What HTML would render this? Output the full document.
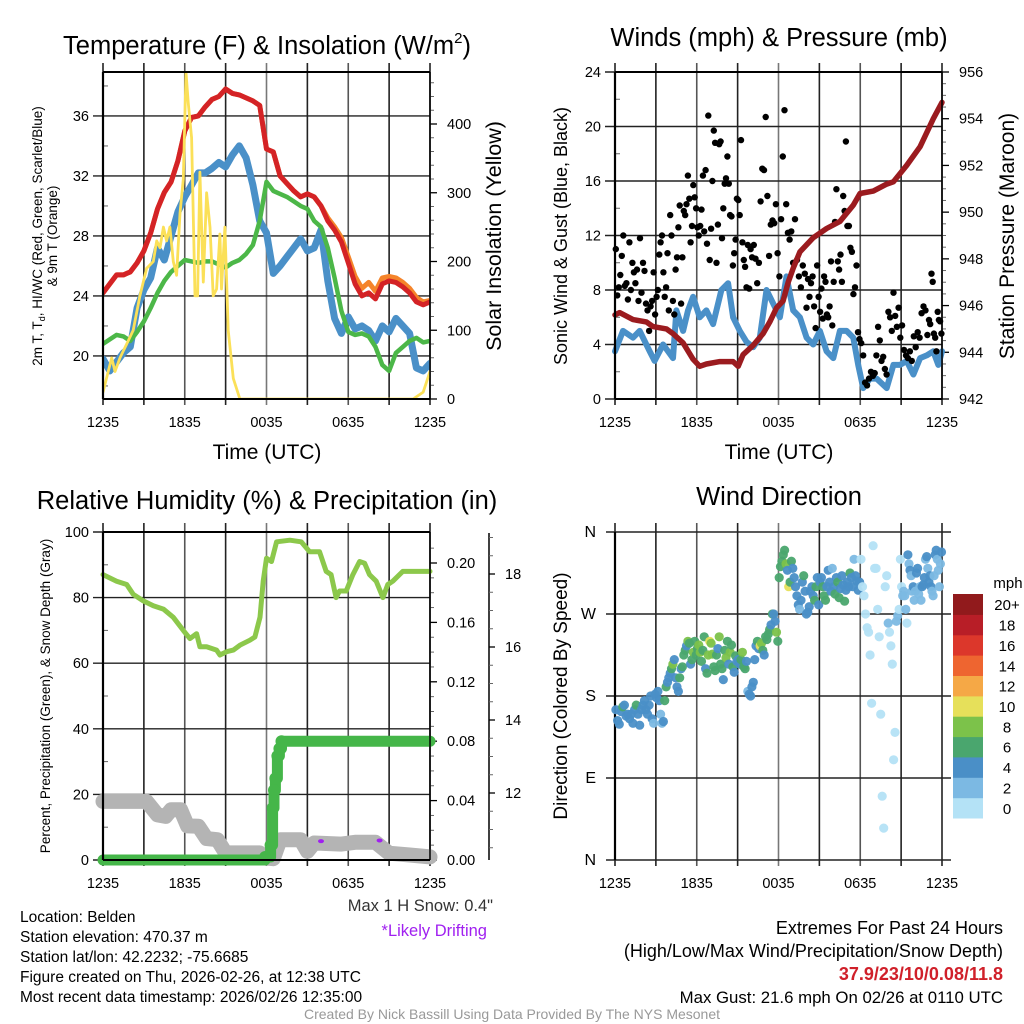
<!DOCTYPE html>
<html><head><meta charset="utf-8"><style>
html,body{margin:0;padding:0;background:#fff;}
svg{display:block;font-family:"Liberation Sans",Arial,sans-serif;}
</style></head><body>
<svg id="c" width="1024" height="1024" viewBox="0 0 1024 1024" xmlns="http://www.w3.org/2000/svg">
<rect width="1024" height="1024" fill="#fff"/>
<g id="g"></g>
<text x="267" y="54" font-size="25.5" text-anchor="middle">Temperature (F) &amp; Insolation (W/m<tspan font-size="15" dy="-11">2</tspan><tspan dy="11">)</tspan></text>
<text x="779" y="46" font-size="25.5" text-anchor="middle">Winds (mph) &amp; Pressure (mb)</text>
<text x="267" y="509" font-size="25.5" text-anchor="middle">Relative Humidity (%) &amp; Precipitation (in)</text>
<text x="779" y="505" font-size="25.5" text-anchor="middle">Wind Direction</text>
<text x="267" y="459" font-size="21" text-anchor="middle">Time (UTC)</text>
<text x="779" y="459" font-size="21" text-anchor="middle">Time (UTC)</text>
<text transform="translate(42,236) rotate(-90)" font-size="13.5" text-anchor="middle">2m T, T<tspan font-size="9" dy="3">d</tspan><tspan dy="-3">, HI/WC (Red, Green, Scarlet/Blue)</tspan></text>
<text transform="translate(57,236) rotate(-90)" font-size="13.5" text-anchor="middle">&amp; 9m T (Orange)</text>
<text transform="translate(501,236) rotate(-90)" font-size="21.5" text-anchor="middle">Solar Insolation (Yellow)</text>
<text transform="translate(567,236) rotate(-90)" font-size="18" text-anchor="middle">Sonic Wind &amp; Gust (Blue, Black)</text>
<text transform="translate(1014,236) rotate(-90)" font-size="21" text-anchor="middle">Station Pressure (Maroon)</text>
<text transform="translate(50,696) rotate(-90)" font-size="13.5" text-anchor="middle">Percent, Precipitation (Green), &amp; Snow Depth (Gray)</text>
<text transform="translate(567,696) rotate(-90)" font-size="19" text-anchor="middle">Direction (Colored By Speed)</text>
<text x="493" y="911" font-size="16.5" fill="#333" text-anchor="end">Max 1 H Snow: 0.4"</text>
<text x="487" y="936" font-size="16.5" fill="#a020f0" text-anchor="end">*Likely Drifting</text>
<g font-size="15.5">
<text x="20" y="922">Location: Belden</text>
<text x="20" y="942">Station elevation: 470.37 m</text>
<text x="20" y="962">Station lat/lon: 42.2232; -75.6685</text>
<text x="20" y="982">Figure created on Thu, 2026-02-26, at 12:38 UTC</text>
<text x="20" y="1002">Most recent data timestamp: 2026/02/26 12:35:00</text>
</g>
<g font-size="18" text-anchor="end">
<text x="1003" y="934">Extremes For Past 24 Hours</text>
<text x="1003" y="957">(High/Low/Max Wind/Precipitation/Snow Depth)</text>
<text x="1003" y="980" fill="#d0202a" font-weight="bold">37.9/23/10/0.08/11.8</text>
<text x="1003" y="1003" font-size="16.8">Max Gust: 21.6 mph On 02/26 at 0110 UTC</text>
</g>
<text x="512" y="1019" font-size="14" fill="#999" text-anchor="middle">Created By Nick Bassill Using Data Provided By The NYS Mesonet</text>
</svg>
<script>
// ---------- data ----------
const halfHours=[0,.5,1,1.5,2,2.5,3,3.5,4,4.5,5,5.5,6,6.5,7,7.5,8,8.5,9,9.5,10,10.5,11,11.5,12,12.5,13,13.5,14,14.5,15,15.5,16,16.5,17,17.5,18,18.5,19,19.5,20,20.5,21,21.5,22,22.5,23,23.5,24];
const tempRed=[24.2,24.8,25.4,25.4,25.6,26.2,27.0,28.2,29.8,30.9,31.6,33.0,35.0,35.9,36.0,36.6,37.1,37.3,37.8,37.5,37.4,37.2,37.0,36.7,33.8,33.6,32.0,31.5,31.0,30.6,30.8,30.6,30.0,29.0,28.4,27.6,26.2,24.8,24.0,24.2,23.8,24.8,25.0,24.9,24.6,24.2,23.6,23.4,23.6];
const temp9m=[24.2,24.8,25.4,25.4,25.6,26.2,27.0,28.2,29.8,30.9,31.6,33.0,35.0,35.9,36.0,36.6,37.1,37.3,37.8,37.5,37.4,37.2,37.0,36.7,33.8,33.6,32.0,31.5,31.0,30.6,30.8,30.6,30.0,29.2,28.6,27.9,26.6,25.3,24.5,24.9,24.3,25.2,25.3,25.2,24.9,24.5,23.9,23.6,23.7];
const tempGreen=[20.8,21.1,21.4,21.3,21.0,21.6,22.3,23.2,24.2,25.0,25.6,26.0,26.4,26.3,26.2,26.3,26.3,26.1,25.9,26.2,26.4,26.8,27.4,29.0,31.6,31.0,30.8,30.6,30.3,30.0,29.8,29.0,28.6,27.2,25.2,23.0,21.6,21.4,21.5,21.3,20.6,19.4,19.0,20.2,20.6,21.0,21.2,20.9,21.0];
const tempBlue=[19.8,19.0,19.6,20.2,20.6,23.2,24.4,25.2,27.2,26.4,28.0,29.6,30.6,31.4,32.2,32.2,32.5,32.9,32.6,33.4,34.0,33.2,31.4,29.0,28.2,25.5,26.0,26.6,27.2,27.8,27.0,27.2,28.4,25.0,22.5,21.5,22.6,21.8,22.0,21.7,21.0,22.0,21.6,22.5,22.0,21.5,19.2,19.0,19.5];
const solarTimes=[0,.64,.88,1.25,1.74,2.22,2.71,3.2,3.69,3.94,4.18,4.43,4.67,4.91,5.16,5.4,5.65,5.89,6.09,6.26,6.5,6.75,6.94,7.11,7.36,7.6,7.85,8.09,8.34,8.58,8.7,8.95,9.19,9.56,10.05,22.76,23.5,24];
const solarVals=[10,60,40,60,80,100,150,190,200,230,220,250,230,250,200,180,270,320,475,430,380,150,150,330,170,300,250,150,160,240,160,250,100,30,0,0,10,40];
const presTimes=[0,.34,1.32,2.3,2.79,3.77,4.26,5.0,5.73,6.22,6.71,7.69,8.67,9.04,9.4,10.14,10.87,11.36,11.85,12.34,12.71,13.08,13.57,14.55,15.53,16.51,17.49,17.98,18.96,19.94,20.43,21.41,22.39,23.36,24];
const presVals=[945.6,945.7,945.4,945.3,945.1,945.0,944.8,944.4,943.7,943.4,943.5,943.6,943.6,943.4,943.9,944.3,944.8,945.3,945.9,946.2,947.0,947.6,948.3,948.9,949.3,949.6,950.3,950.8,950.9,951.2,951.3,952.0,952.8,954.0,954.7];
const windTimes=[0,.59,1.32,1.81,2.55,2.91,3.53,4.26,4.51,5.0,5.36,5.73,6.22,6.71,7.2,7.81,8.3,8.67,9.16,9.65,10.14,10.63,11.12,11.61,12.1,12.59,13.08,13.57,14.06,14.55,15.04,15.53,16.02,16.51,17.0,17.49,17.85,18.22,18.71,19.2,19.94,20.43,20.92,21.41,21.9,22.39,22.88,23.36,23.73,24];
const windVals=[3.5,5,4.5,5,3.5,2.8,4,3,6.5,5,6.5,7.5,6,6.5,5.5,8,8.5,6,5,4.2,3.8,4.5,8,7,6,9,6.5,6,4.5,4,5,3.5,3,5,5,4.5,2.5,0.8,1.5,1.5,0.8,2.5,2.5,2.8,1.8,3.0,3.2,3.5,2.5,3.5];
const gustsByHour=[
[11,7.6,8.2,9.1,10.5,12,8.3,8.5,7.3],[11.5,8.0,10,9.3,8.5,9.5,7.2,11.8,7.8],[10,9.4,7.0,6.5,5.0,6.8,7.2,9.3,6.2],
[7.5,8.0,10.6,11.5,12,9.3,7.5,8.2,10.7,6.5],[13.5,12,7.2,6.2,9.5,10.4,12.6,14.2,7.0,10.4],[13.8,13.5,14.3,16.4,14.7,11.5,12.7,15.7,14.8,14.0],
[12.6,12.0,12.7,13.9,16.4,12.3,16.8,11.4,20.8,10.2],[12.5,16.0,19.7,18.8,10.0,12.8,18.7,18.9,11.8,14.0],[15.8,16.2,17.8,15.8,13.5,13.4,9.8,10.7,11.7,14.7],
[14.6,13.5,19.0,11.5,10.2,9.7,8.2,11.3,8.1,11.0],[10.4,11.3,10.3,8.5,10.0,14.5,16.9,16.8],[20.7,14.9,10.5,12.8,13.1,12.9,14.3,10.7],
[9.0,13.2,17.8,21.2,14.3,12.2,11.7,12.3],[10.0,13.2,10.2,9.0,8.2,9.8,9.2],[6.7,8.8,7.5,8.5,9.0,6.8,5.2,9.8,7.5],
[6.4,8.1,5.9,9.0,8.6,6.2,6.0,6.8,10.1,5.4],[8.6,13.0,15.4,10.1,9.5,10.6,8.6,14.9,13.8,18.9],[12.7,12.7,11.1,10.8,7.7,8.2,9.8,4.9,4.4],
[4.1,3.2,1.2,1.0,1.5,2.0,1.7],[1.9,3.2,5.3,4.3,2.8,3.1,2.2,1.8],[6.4,6.0,5.0,7.8,6.1,5.3,6.7,4.5],
[5.4,3.6,3.2,3.0,3.5,2.8,4.6],[3.8,4.9,4.5,6.3,6.8,6.5,4.7],[5.8,5.5,9.2,8.6,4.8,4.5,3.5,6.4,5.8,5.7,4.8]];
const rhTimes=[0,1.0,1.74,2.22,2.96,3.69,4.43,5.16,5.89,6.38,6.87,7.11,7.6,8.34,8.58,9.07,9.56,10.05,10.78,11.15,11.52,11.76,12.0,12.37,12.74,13.72,14.55,15.16,15.89,16.38,16.74,17.11,17.36,17.85,18.34,18.83,19.2,19.56,20.05,20.54,20.9,21.27,22.0,22.74,23.47,24];
const rhVals=[87,85,84,81,79,77.5,76.5,74,70,67.5,69,65,65,64,62.5,63.5,64,65.5,67,68,74,85,92,91,97,97.5,97,94,94,88,87,80,82,82,87,91,90.5,87,85,80,84,85,88,88,88,88];
const precipTimes=[0,11.6,11.9,12.3,12.45,12.55,12.65,12.8,12.95,13.1,24];
const precipVals=[0,0,0.002,0.01,0.035,0.047,0.055,0.07,0.075,0.08,0.08];
const snowTimes=[0,3.2,4.0,4.6,5.0,5.7,6.2,7.0,7.6,8.4,9.0,11.5,12.0,12.5,13.0,14.5,15.0,15.5,17.5,18.5,20.0,20.5,21.0,22.5,24];
const snowVals=[11.77,11.77,11.4,11.36,11.54,11.54,11.1,11.09,10.75,10.72,10.36,10.36,10.22,10.2,10.72,10.72,10.4,10.63,10.6,10.65,10.65,10.5,10.35,10.3,10.25];
const driftTimes=[16.0,20.3];
const driftVals=[10.68,10.7];
const dirByHour=[
[[165,4],[153,4],[149,4],[163,4],[168,6],[170,4],[158,4],[160,4]],
[[155,4],[160,4],[150,4],[165,4],[170,6],[160,4],[148,4],[165,4]],
[[170,4],[175,4],[165,4],[160,4],[170,4],[180,4],[155,4],[150,2],[182,4]],
[[178,4],[185,4],[175,4],[160,2],[150,2],[152,4],[175,6],[190,6],[195,4],[200,4]],
[[205,4],[210,6],[215,8],[220,4],[200,4],[190,4],[185,4],[200,6],[210,4],[212,6]],
[[225,6],[230,6],[235,4],[240,8],[238,6],[215,4],[220,6],[228,8],[240,6],[225,6]],
[[232,6],[236,8],[228,8],[218,6],[230,6],[245,6],[210,4],[205,6],[225,8],[240,10]],
[[238,8],[226,8],[212,6],[208,6],[225,6],[232,4],[245,8],[215,6],[210,6],[198,4]],
[[230,6],[222,8],[240,6],[215,4],[228,8],[236,6],[212,6],[206,4],[224,6],[218,4]],
[[220,4],[215,4],[220,6],[228,8],[212,6],[210,6],[218,4],[185,2],[182,4],[180,4]],
[[190,4],[195,4],[220,4],[235,4],[240,6],[232,4],[235,10],[238,8],[230,6],[225,4]],
[[245,6],[242,6],[248,6],[253,6],[258,4],[270,6],[270,4],[262,4],[250,8],[240,6]],
[[310,6],[322,6],[328,6],[335,6],[340,6],[325,8],[318,4],[300,10],[305,6],[328,6]],
[[320,4],[310,4],[300,4],[290,4],[280,4],[275,2],[285,4],[305,4],[312,6],[295,4]],
[[270,4],[272,4],[278,4],[295,4],[300,4],[290,4],[285,6],[300,6],[310,4],[280,4]],
[[305,4],[310,4],[300,6],[290,6],[285,6],[300,4],[318,4],[305,4],[295,4],[320,2]],
[[300,4],[292,6],[310,4],[305,6],[288,6],[298,4],[312,4],[302,4],[284,6],[296,4]],
[[305,4],[300,4],[315,6],[310,4],[300,4],[330,2],[312,4],[306,4],[296,4],[305,4]],
[[330,0],[300,0],[290,0],[270,0],[255,0],[250,0],[225,0],[172,0],[345,0]],
[[320,0],[320,0],[275,0],[245,0],[160,0],[70,0],[35,0],[300,0],[312,0]],
[[260,2],[250,0],[235,0],[215,0],[110,0],[140,0],[262,2],[268,2],[275,0],[330,0]],
[[300,0],[290,2],[295,2],[290,2],[275,2],[260,0],[335,4],[325,2],[318,4],[312,2],[295,2],[300,4],[285,2]],
[[295,2],[315,4],[320,4],[292,2],[300,2],[285,2],[300,4],[302,4],[310,4],[330,2],[333,4],[320,2]],
[[305,4],[312,4],[300,4],[295,2],[290,2],[312,2],[335,4],[340,4],[330,2],[318,2],[300,2],[325,2],[338,4]]];
const speedBinLabels=["0","2","4","6","8","10","12","14","16","18","20+"];
const speedBinColors=["#b4e2f6","#7cb9e3","#4a8fc7","#4aa66e","#7cc24a","#e6e05a","#f5a846","#ee6530","#dc372b","#b81e27","#911a1c"];
const xTickLabels=["1235","1835","0035","0635","1235"];
const tempTicks=[20,24,28,32,36], solarTicks=[0,100,200,300,400];
const windTicks=[0,4,8,12,16,20,24], presTicks=[942,944,946,948,950,952,954,956];
const rhTicks=[0,20,40,60,80,100], precipTicks=[0,0.04,0.08,0.12,0.16,0.20], snowTicks=[12,14,16,18];
const dirTicks=[0,90,180,270,360], dirLabels=["N","E","S","W","N"];

// ---------- helpers ----------
const NS="http://www.w3.org/2000/svg", G=document.getElementById('g');
function mk(tag,attrs,parent){const e=document.createElementNS(NS,tag);for(const k in attrs)e.setAttribute(k,attrs[k]);(parent||G).appendChild(e);return e;}
function pathD(ts,vs,fx,fy){return ts.map((t,i)=>(i?'L':'M')+fx(t).toFixed(1)+','+fy(vs[i]).toFixed(1)).join('');}
function stepD(ts,vs,fx,fy){let d='';ts.forEach((t,i)=>{const x=fx(t).toFixed(1),y=fy(vs[i]).toFixed(1);d+=i?('H'+x+'V'+y):('M'+x+','+y);});return d;}

function frame(x0,x1,y0,y1,name){
  const fx=h=>x0+h*(x1-x0)/24;
  const grp=mk('g',{});
  
  
  for(let h=0;h<=24;h+=3){
    const ln=mk('line',{x1:fx(h),x2:fx(h),y1:y0-9,y2:y1+6,stroke:(h===12?'#777':(h%12===6?'#555':'#222')),'stroke-width':1.6},grp);
    
    
  }
  xTickLabels.forEach((l,i)=>{
    const t=mk('text',{x:fx(i*6),y:y1+28,'font-size':14.5,'text-anchor':'middle'},grp);
    t.textContent=l;
    
    
  });
  return fx;
}
function hgrid(x0,x1,y,ext){
  const l=mk('line',{x1:x0-ext,x2:x1,y1:y,y2:y,stroke:'#222','stroke-width':1.4});
  
  
}
function label(x,y,txt,anchor,name,size){
  const t=mk('text',{x:x,y:y+5,'font-size':size||14.5,'text-anchor':anchor});
  t.textContent=txt;
  
  
}
function minor(x,y,len){mk('line',{x1:x,x2:x+len,y1:y,y2:y,stroke:'#666','stroke-width':1});}
function border(x0,x1,y0,y1){
  mk('line',{x1:x0,x2:x0,y1:y0,y2:y1,stroke:'#000','stroke-width':2.2});
  mk('line',{x1:x1,x2:x1,y1:y0,y2:y1,stroke:'#000','stroke-width':1.5});
  mk('line',{x1:x0,x2:x1,y1:y0,y2:y0,stroke:'#000','stroke-width':2});
  mk('line',{x1:x0,x2:x1,y1:y1,y2:y1,stroke:'#000','stroke-width':2});
}
function series(d,color,w,name){
  const p=mk('path',{d:d,fill:'none',stroke:color,'stroke-width':w,'stroke-linejoin':'round','stroke-linecap':'round'});
  
  
  return p;
}

// ---------- panel 1: temperature ----------
(function(){
  const x0=103,x1=430,y0=72,y1=399;
  const fx=frame(x0,x1,y0,y1,'temp');
  const yT=v=>y1-(v-17.13)*15, yS=v=>y1-v*275/400;
  tempTicks.forEach(v=>{hgrid(x0,x1,yT(v),10);label(x0-14,yT(v),String(v),'end','temp-y-tick');});
  for(let v=18;v<=38;v+=4){minor(x0,yT(v),5);}
  solarTicks.forEach(v=>{label(x1+17,yS(v),String(v),'start','solar-y-tick');mk('line',{x1:x1,x2:x1+7,y1:yS(v),y2:yS(v),stroke:'#000','stroke-width':1.3});});
  for(let v=20;v<=460;v+=20){if(v%100)minor(x1,yS(v),4);}
  const clip=mk('clipPath',{id:'c1'});mk('rect',{x:x0,y:y0,width:x1-x0,height:y1-y0},clip);
  const g=mk('g',{'clip-path':'url(#c1)'});
  series(pathD(halfHours,tempBlue,fx,yT),'#4a90c8',7,'blue-temp-line');g.appendChild(G.lastChild);
  series(pathD(halfHours,tempGreen,fx,yT),'#4cb748',4.5,'green-dewpoint-line');g.appendChild(G.lastChild);
  series(pathD(halfHours,temp9m,fx,yT),'#f5842a',5,'orange-9m-temp-line');g.appendChild(G.lastChild);
  series(pathD(halfHours,tempRed,fx,yT),'#d42326',5,'red-2m-temp-line');g.appendChild(G.lastChild);
  series(pathD(solarTimes,solarVals,fx,yS),'#fbe058',2.8,'yellow-insolation-line');g.appendChild(G.lastChild);
  border(x0,x1,y0,y1);
})();

// ---------- panel 2: winds ----------
(function(){
  const x0=615,x1=942,y0=72,y1=399;
  const fx=frame(x0,x1,y0,y1,'winds');
  const yW=v=>y1-v*327/24, yP=v=>y1-(v-942)*327/14;
  windTicks.forEach(v=>{hgrid(x0,x1,yW(v),10);label(x0-14,yW(v),String(v),'end','wind-y-tick');});
  for(let v=2;v<24;v+=4)minor(x0,yW(v),5);
  presTicks.forEach(v=>{label(x1+17,yP(v),String(v),'start','pressure-y-tick');mk('line',{x1:x1,x2:x1+7,y1:yP(v),y2:yP(v),stroke:'#000','stroke-width':1.3});});
  for(let v=942.5;v<956;v+=0.5){if(v%2)minor(x1,yP(v),4);}
  series(pathD(windTimes,windVals,fx,yW),'#4a90c8',6,'sonic-wind-line');
  gustsByHour.forEach((arr,h)=>arr.forEach((v,i)=>{
    const c=mk('circle',{cx:fx(h+(i+0.5)/arr.length).toFixed(1),cy:yW(v).toFixed(1),r:3.2,fill:'#000'});
    
    
  }));
  series(pathD(presTimes,presVals,fx,yP),'#9b1b1f',5.5,'pressure-line');
  border(x0,x1,y0,y1);
})();

// ---------- panel 3: RH / precip / snow ----------
(function(){
  const x0=103,x1=430,y0=532,y1=860;
  const fx=frame(x0,x1,y0,y1,'rh');
  const yR=v=>y1-v*3.28, yPr=v=>y1-v*297/0.2, ySn=v=>793-(v-12)*36.5;
  rhTicks.forEach(v=>{hgrid(x0,x1,yR(v),10);label(x0-14,yR(v),String(v),'end','rh-y-tick');});
  for(let v=10;v<100;v+=20)minor(x0,yR(v),5);
  precipTicks.forEach(v=>{label(x1+17,yPr(v),v.toFixed(2),'start','precip-y-tick');mk('line',{x1:x1,x2:x1+7,y1:yPr(v),y2:yPr(v),stroke:'#000','stroke-width':1.3});});
  for(let v=0.01;v<0.22;v+=0.01){if(Math.round(v*100)%4)minor(x1,yPr(v),4);}
  const ax=489;
  mk('line',{x1:ax,x2:ax,y1:533,y2:y1,stroke:'#000','stroke-width':1.5});
  snowTicks.forEach(v=>{label(ax+16,ySn(v),String(v),'start','snow-y-tick');mk('line',{x1:ax,x2:ax+6,y1:ySn(v),y2:ySn(v),stroke:'#000','stroke-width':1.3});});
  for(let v=10.5;v<19.2;v+=0.5){if(v%2)minor(ax,ySn(v),4);}
  series(pathD(snowTimes,snowVals,fx,ySn),'#b4b4b4',15,'snow-depth-line');
  driftTimes.forEach((t,i)=>{const c=mk('ellipse',{cx:fx(t),cy:ySn(driftVals[i]),rx:3,ry:2,fill:'#a020f0'});
    
    });
  series(stepD(precipTimes,precipVals,fx,yPr),'#45b649',11,'precip-line');
  precipTimes.forEach((t,i)=>{if(t>11.8&&t<13.2){const c=mk('circle',{cx:fx(t),cy:yPr(precipVals[i]),r:6,fill:'#45b649'});
    
    }});
  series(pathD(rhTimes,rhVals,fx,yR),'#8cc84b',5,'rh-line');
  border(x0,x1,y0,y1);
})();

// ---------- panel 4: wind direction ----------
(function(){
  const x0=615,x1=942,y0=532,y1=860;
  const fx=frame(x0,x1,y0,y1,'direction');
  const yD=v=>y1-v*328/360;
  dirTicks.forEach((v,i)=>{mk('line',{x1:606,x2:951,y1:yD(v),y2:yD(v),stroke:'#222','stroke-width':1.4});label(596,yD(v),dirLabels[i],'end','direction-y-tick',16);});
  mk('line',{x1:x0,x2:x0,y1:y0,y2:y1,stroke:'#000','stroke-width':2.2});
  dirByHour.forEach((arr,h)=>arr.forEach((p,i)=>{
    const c=mk('circle',{cx:fx(h+(i+0.5)/arr.length).toFixed(1),cy:yD(p[0]).toFixed(1),r:4.6,fill:speedBinColors[Math.min(10,Math.floor(p[1]/2))],opacity:0.95});
    
    
  }));
  const lg=mk('g',{});
  
  
  const bh=224/11;
  speedBinColors.forEach((c,i)=>{
    const y=818-(i+1)*bh;
    const r=mk('rect',{x:953,y:y.toFixed(1),width:30,height:(bh+0.5).toFixed(1),fill:c},lg);
    
    
    const t=mk('text',{x:1007,y:(y+bh/2+6).toFixed(1),'font-size':15,'text-anchor':'middle'},lg);
    t.textContent=speedBinLabels[i];
    
    
  });
  const u=mk('text',{x:1008,y:588,'font-size':15,'text-anchor':'middle'},lg);
  u.textContent='mph';
  
  
})();
</script>
</body></html>
